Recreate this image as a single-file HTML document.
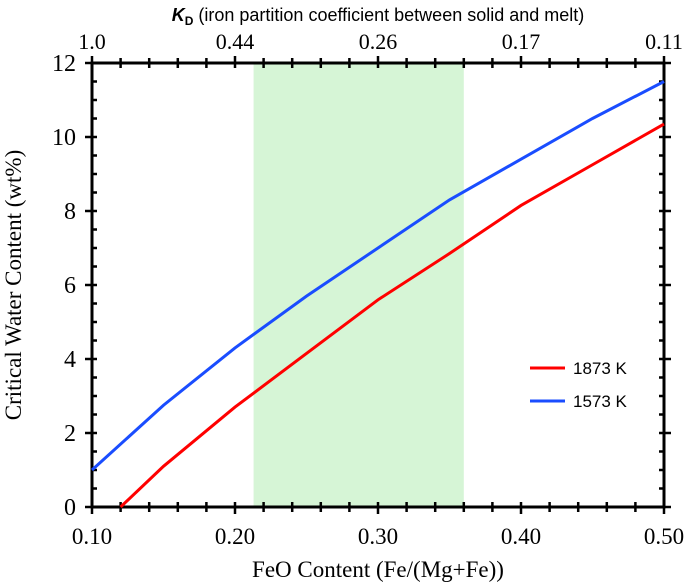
<!DOCTYPE html>
<html><head><meta charset="utf-8"><style>
body{margin:0;background:#fff;}
svg{display:block;}
.tk{font-family:"Liberation Serif",serif;font-size:23px;fill:#000;}
</style></head><body>
<svg id="chart" width="685" height="582" xmlns="http://www.w3.org/2000/svg">
<g id="g"></g>
</svg>
<script>
const xBlue=[0.10,0.15,0.20,0.25,0.30,0.35,0.40,0.45,0.50];
const yBlue=[1.0,2.75,4.3,5.7,7.0,8.3,9.4,10.5,11.5];
const xRed=[0.12,0.15,0.20,0.25,0.30,0.35,0.40,0.45,0.50];
const yRed=[0,1.1,2.7,4.15,5.6,6.85,8.15,9.25,10.35];
const xTicks=[0.10,0.20,0.30,0.40,0.50];
const xTickLabels=["0.10","0.20","0.30","0.40","0.50"];
const topTickLabels=["1.0","0.44","0.26","0.17","0.11"];
const yTicks=[0,2,4,6,8,10,12];
const band=[0.213,0.36];
const L=92,R=664,T=63,B=507;
const sx=v=>L+(v-0.1)/0.4*(R-L);
const sy=v=>B-v/12*(B-T);
const NS="http://www.w3.org/2000/svg";
const g=document.getElementById('g');
function el(t,a,txt){const e=document.createElementNS(NS,t);for(const k in a)e.setAttribute(k,a[k]);if(txt!==undefined)e.textContent=txt;g.appendChild(e);return e;}
let e;
e=el('rect',{x:sx(band[0]),y:T,width:sx(band[1])-sx(band[0]),height:B-T,fill:'#d6f5d6'});


for(let i=0;i<=20;i++){const v=0.1+i*0.02,x=sx(v),maj=i%5==0;
 el('line',{x1:x,x2:x,y1:B-5,y2:B+(maj?7:5),stroke:'#000','stroke-width':2.5});
 el('line',{x1:x,x2:x,y1:T+5,y2:T-(maj?7:5),stroke:'#000','stroke-width':2.5});}
for(let i=0;i<=24;i++){const v=i*0.5,y=sy(v),maj=i%4==0;
 el('line',{x1:L-(maj?7:0),x2:L+5,y1:y,y2:y,stroke:'#000','stroke-width':2.5});
 el('line',{x1:R-5,x2:R+(maj?7:0),y1:y,y2:y,stroke:'#000','stroke-width':2.5});}
e=el('rect',{x:L,y:T,width:R-L,height:B-T,fill:'none',stroke:'#000','stroke-width':3});


xTicks.forEach((v,i)=>{
 e=el('text',{x:sx(v),y:B+37,'text-anchor':'middle',class:'tk'},xTickLabels[i]);
 
 
 e=el('text',{x:sx(v),y:T-14,'text-anchor':'middle',class:'tk',style:'font-size:22px'},topTickLabels[i]);
 
 
});
yTicks.forEach(v=>{
 e=el('text',{x:L-16,y:sy(v)+8,'text-anchor':'end',class:'tk',style:'font-size:24px'},String(v));
 
 
});
function line(xs,ys,c,n){
 e=el('polyline',{points:xs.map((x,i)=>sx(x)+','+sy(ys[i])).join(' '),fill:'none',stroke:c,'stroke-width':3});
 
 
}
line(xRed,yRed,'#ff0000','line-1873k');
line(xBlue,yBlue,'#1a4dff','line-1573k');
e=el('line',{x1:530,x2:565,y1:368,y2:368,stroke:'#ff0000','stroke-width':3});


e=el('text',{x:573,y:374,style:'font-family:"Liberation Sans",sans-serif;font-size:17px'},'1873 K');


e=el('line',{x1:530,x2:565,y1:401,y2:401,stroke:'#1a4dff','stroke-width':3});


e=el('text',{x:573,y:407,style:'font-family:"Liberation Sans",sans-serif;font-size:17px'},'1573 K');


e=el('text',{x:(L+R)/2,y:577,'text-anchor':'middle',class:'tk',style:'font-size:23px'},'FeO Content (Fe/(Mg+Fe))');


e=el('text',{x:0,y:0,'text-anchor':'middle',class:'tk',style:'font-size:23px',transform:'translate(21,285) rotate(-90)'},'Critical Water Content (wt%)');


e=el('text',{x:378,y:21,'text-anchor':'middle',style:'font-family:"Liberation Sans",sans-serif;font-size:18px'});


e.innerHTML='<tspan font-weight="bold" font-style="italic">K</tspan><tspan font-weight="bold" font-size="12" dy="4">D</tspan><tspan dy="-4"> (iron partition coefficient between solid and melt)</tspan>';
</script>
</body></html>
